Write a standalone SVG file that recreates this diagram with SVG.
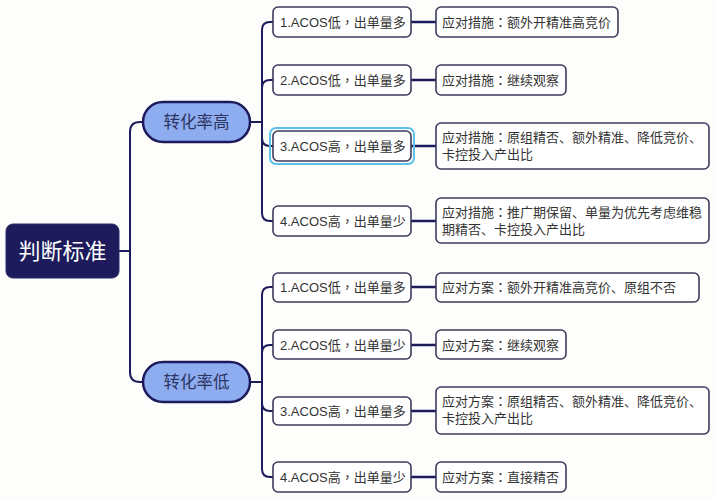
<svg xmlns="http://www.w3.org/2000/svg" width="715" height="500" viewBox="0 0 715 500">
<style>
text{font-family:"Liberation Sans","Noto Sans CJK SC",sans-serif}
.p{font-family:"Noto Sans CJK TC",sans-serif}
.root{fill:#1d1b5c;stroke:#2a2a6a;stroke-width:1}
.roott{fill:#fff;font-size:22px}
.pill{fill:#8eacf0;stroke:#1d1b5c;stroke-width:2.5}
.pillt{fill:#2c3560;font-size:16.5px}
.box{fill:#fff;stroke:#3b3b5c;stroke-width:1.6}
.t{fill:#333;font-size:13px}
.hl{fill:none;stroke:#5bc3ea;stroke-width:2}
.c{fill:none;stroke:#1d1b5c;stroke-width:2}
.c2{fill:none;stroke:#1d1b5c;stroke-width:2.6}
</style>
<rect width="715" height="500" fill="#fdfdfb"/>
<g id="connectors">
<path class="c" d="M119 251 H130 V132 Q130 122 140 122 H143"/>
<path class="c" d="M130 251 V372 Q130 382 140 382 H143"/>
<path class="c" d="M250 122 H262 V30 Q262 22 270 22 H273"/>
<path class="c" d="M262 122 V88 Q262 80 270 80 H273"/>
<path class="c" d="M262 122 V138 Q262 146 270 146 H273"/>
<path class="c" d="M262 122 V213 Q262 221 270 221 H273"/>
<path class="c" d="M250 382 H262 V295 Q262 287 270 287 H273"/>
<path class="c" d="M262 382 V353 Q262 345 270 345 H273"/>
<path class="c" d="M262 382 V403 Q262 411 270 411 H273"/>
<path class="c" d="M262 382 V469 Q262 477 270 477 H273"/>
<path class="c2" d="M411 22 H436 M411 80 H436 M411 146 H436 M411 221 H436 M411 287 H436 M411 345 H436 M411 411 H436 M411 477 H436"/>
</g>
<g id="root"><rect class="root" x="6" y="224" width="113" height="54" rx="7"/><text class="roott" x="62.5" y="259" text-anchor="middle">判断标准</text></g>
<g id="high"><rect class="pill" x="143" y="102" width="107" height="40" rx="20"/><text class="pillt" x="196.5" y="128" text-anchor="middle">转化率高</text></g>
<g id="low"><rect class="pill" x="143" y="362" width="107" height="40" rx="20"/><text class="pillt" x="196.5" y="388" text-anchor="middle">转化率低</text></g>
<g id="h1"><rect class="box" x="273" y="7" width="138" height="30" rx="5"/><text class="t" x="280" y="27">1.ACOS低<tspan class="p">，</tspan>出单量多</text></g>
<g id="h2"><rect class="box" x="273" y="65" width="138" height="30" rx="5"/><text class="t" x="280" y="85">2.ACOS低<tspan class="p">，</tspan>出单量多</text></g>
<g id="h3"><rect class="hl" x="270" y="128" width="144" height="36" rx="6"/><rect class="box" x="273" y="131" width="138" height="30" rx="5"/><text class="t" x="280" y="151">3.ACOS高<tspan class="p">，</tspan>出单量多</text></g>
<g id="h4"><rect class="box" x="273" y="206" width="138" height="30" rx="5"/><text class="t" x="280" y="226">4.ACOS高<tspan class="p">，</tspan>出单量少</text></g>
<g id="h1a"><rect class="box" x="436" y="7" width="182" height="30" rx="5"/><text class="t" x="442" y="27">应对措施<tspan class="p">：</tspan>额外开精准高竞价</text></g>
<g id="h2a"><rect class="box" x="436" y="65" width="130" height="30" rx="5"/><text class="t" x="442" y="85">应对措施<tspan class="p">：</tspan>继续观察</text></g>
<g id="h3a"><rect class="box" x="436" y="123" width="273" height="46" rx="5"/><text class="t" x="442" y="142">应对措施<tspan class="p">：</tspan>原组精否、额外精准、降低竞价、</text><text class="t" x="442" y="159">卡控投入产出比</text></g>
<g id="h4a"><rect class="box" x="436" y="198" width="273" height="45" rx="5"/><text class="t" x="442" y="217">应对措施<tspan class="p">：</tspan>推广期保留、单量为优先考虑维稳</text><text class="t" x="442" y="234">期精否、卡控投入产出比</text></g>
<g id="l1"><rect class="box" x="273" y="273" width="138" height="29" rx="5"/><text class="t" x="280" y="292">1.ACOS低<tspan class="p">，</tspan>出单量多</text></g>
<g id="l2"><rect class="box" x="273" y="330" width="138" height="29" rx="5"/><text class="t" x="280" y="350">2.ACOS低<tspan class="p">，</tspan>出单量少</text></g>
<g id="l3"><rect class="box" x="273" y="397" width="138" height="28" rx="5"/><text class="t" x="280" y="416">3.ACOS高<tspan class="p">，</tspan>出单量多</text></g>
<g id="l4"><rect class="box" x="273" y="462" width="138" height="30" rx="5"/><text class="t" x="280" y="482">4.ACOS高<tspan class="p">，</tspan>出单量少</text></g>
<g id="l1a"><rect class="box" x="436" y="273" width="263" height="29" rx="5"/><text class="t" x="442" y="292">应对方案<tspan class="p">：</tspan>额外开精准高竞价、原组不否</text></g>
<g id="l2a"><rect class="box" x="436" y="330" width="130" height="29" rx="5"/><text class="t" x="442" y="350">应对方案<tspan class="p">：</tspan>继续观察</text></g>
<g id="l3a"><rect class="box" x="436" y="387" width="273" height="47" rx="5"/><text class="t" x="442" y="406">应对方案<tspan class="p">：</tspan>原组精否、额外精准、降低竞价、</text><text class="t" x="442" y="423">卡控投入产出比</text></g>
<g id="l4a"><rect class="box" x="436" y="462" width="130" height="30" rx="5"/><text class="t" x="442" y="482">应对方案<tspan class="p">：</tspan>直接精否</text></g>
</svg>
